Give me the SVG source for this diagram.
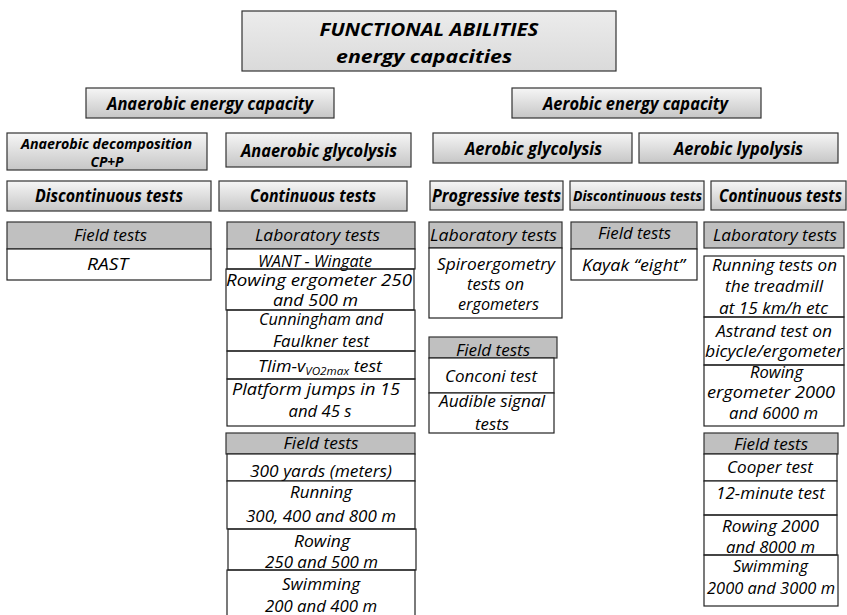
<svg xmlns="http://www.w3.org/2000/svg" width="847" height="615" viewBox="0 0 847 615">
<defs>
<linearGradient id="g" x1="0" y1="0" x2="0" y2="1">
<stop offset="0" stop-color="#f6f6f6"/>
<stop offset="1" stop-color="#c6c6c6"/>
</linearGradient>
<linearGradient id="gt" x1="0" y1="0" x2="0" y2="1">
<stop offset="0" stop-color="#ececec"/>
<stop offset="1" stop-color="#dadada"/>
</linearGradient>
<style>
.t{fill:url(#gt);stroke:#333;stroke-width:1.2}
.h{fill:url(#g);stroke:#333;stroke-width:1.2}
.gh{fill:#c0c0c0;stroke:#333;stroke-width:1.2}
.w{fill:#fff;stroke:#222;stroke-width:1.2}
.n{fill:none;stroke:#222;stroke-width:1.2}
text{font-family:"Open Sans","Noto Sans",sans-serif;font-style:italic;fill:#000;text-anchor:middle}
.b{font-weight:bold;font-size:17.5px}
.bs{font-weight:bold;font-size:15px}
.r{font-size:16px}
.sub{font-size:10.5px}
</style>
</defs>
<g id="connectors"/>

<g id="title">
<rect class="t" x="242" y="11" width="374" height="60"/>
<text class="b" x="429" y="36" textLength="219" lengthAdjust="spacingAndGlyphs" style="font-size:18px">FUNCTIONAL ABILITIES</text>
<text class="b" x="424" y="63" textLength="176" lengthAdjust="spacingAndGlyphs" style="font-size:18px">energy capacities</text>
</g>

<g id="anaerobic">
<rect class="h" x="86" y="88" width="248" height="30"/>
<text class="b" x="210" y="110" textLength="206" lengthAdjust="spacingAndGlyphs">Anaerobic energy capacity</text>
</g>
<g id="aerobic">
<rect class="h" x="512" y="88" width="249" height="30"/>
<text class="b" x="635.5" y="110" textLength="185" lengthAdjust="spacingAndGlyphs">Aerobic energy capacity</text>
</g>

<g id="an-decomp">
<rect class="h" x="7" y="133" width="200" height="37"/>
<text class="bs" x="106.5" y="149" textLength="171" lengthAdjust="spacingAndGlyphs">Anaerobic decomposition</text>
<text class="bs" x="107" y="167" textLength="33" lengthAdjust="spacingAndGlyphs">CP+P</text>
</g>
<g id="an-glyc">
<rect class="h" x="226" y="133" width="185" height="34"/>
<text class="b" x="319" y="157" textLength="156" lengthAdjust="spacingAndGlyphs">Anaerobic glycolysis</text>
</g>
<g id="ae-glyc">
<rect class="h" x="433" y="133" width="199" height="30"/>
<text class="b" x="533.5" y="155" textLength="137" lengthAdjust="spacingAndGlyphs">Aerobic glycolysis</text>
</g>
<g id="ae-lypo">
<rect class="h" x="639" y="133" width="199" height="30"/>
<text class="b" x="738.5" y="155" textLength="129" lengthAdjust="spacingAndGlyphs">Aerobic lypolysis</text>
</g>

<g id="disc1">
<rect class="h" x="7" y="181" width="204" height="30"/>
<text class="b" x="109" y="202" textLength="148" lengthAdjust="spacingAndGlyphs">Discontinuous tests</text>
</g>
<g id="cont1">
<rect class="h" x="219" y="181" width="188" height="30"/>
<text class="b" x="313" y="202" textLength="126" lengthAdjust="spacingAndGlyphs">Continuous tests</text>
</g>
<g id="prog">
<rect class="h" x="430" y="181" width="133" height="29"/>
<text class="b" x="496.5" y="202" textLength="129" lengthAdjust="spacingAndGlyphs">Progressive tests</text>
</g>
<g id="disc2">
<rect class="h" x="570" y="181" width="134" height="29"/>
<text class="bs" x="637.5" y="201" textLength="129" lengthAdjust="spacingAndGlyphs" style="font-size:14px">Discontinuous tests</text>
</g>
<g id="cont2">
<rect class="h" x="711" y="181" width="135" height="29"/>
<text class="b" x="780.5" y="202" textLength="123" lengthAdjust="spacingAndGlyphs">Continuous tests</text>
</g>

<!-- Column 1 -->
<g id="c1-field">
<rect class="gh" x="7" y="222" width="204" height="27"/>
<text class="r" x="110.5" y="241" textLength="73" lengthAdjust="spacingAndGlyphs">Field tests</text>
</g>
<g id="c1-rast">
<rect class="w" x="7" y="249" width="204" height="31"/>
<text class="r" x="107.5" y="270" textLength="41" lengthAdjust="spacingAndGlyphs">RAST</text>
</g>

<!-- Column 2 -->
<g id="c2-lab">
<rect class="gh" x="227" y="222" width="188" height="27"/>
<text class="r" x="317.5" y="241" textLength="125" lengthAdjust="spacingAndGlyphs">Laboratory tests</text>
</g>
<g id="c2-want">
<rect class="w" x="227" y="249" width="188" height="20"/>
<text class="r" x="315" y="267" textLength="114" lengthAdjust="spacingAndGlyphs">WANT - Wingate</text>
</g>
<g id="c2-rowerg">
<rect class="n" x="226" y="269" width="188" height="41"/>
<text class="r" x="319" y="286" textLength="186" lengthAdjust="spacingAndGlyphs">Rowing ergometer 250</text>
<text class="r" x="315.5" y="306" textLength="85" lengthAdjust="spacingAndGlyphs">and 500 m</text>
</g>
<g id="c2-cunn">
<rect class="n" x="227" y="310" width="188" height="41"/>
<text class="r" x="321" y="325" textLength="124" lengthAdjust="spacingAndGlyphs">Cunningham and</text>
<text class="r" x="321" y="347" textLength="96" lengthAdjust="spacingAndGlyphs">Faulkner test</text>
</g>
<g id="c2-tlim">
<rect class="n" x="227" y="351" width="188" height="28"/>
<text class="r" x="320" y="372" textLength="124" lengthAdjust="spacingAndGlyphs">Tlim-v<tspan class="sub" dy="3">VO2max</tspan><tspan dy="-3"> test</tspan></text>
</g>
<g id="c2-plat">
<rect class="n" x="227" y="379" width="188" height="47"/>
<text class="r" x="316" y="395" textLength="168" lengthAdjust="spacingAndGlyphs">Platform jumps in 15</text>
<text class="r" x="320" y="417" textLength="63" lengthAdjust="spacingAndGlyphs">and 45 s</text>
</g>
<g id="c2-field">
<rect class="gh" x="226" y="433" width="189" height="21"/>
<text class="r" x="321" y="449" textLength="75" lengthAdjust="spacingAndGlyphs">Field tests</text>
</g>
<g id="c2-300">
<rect class="w" x="227" y="454" width="188" height="27"/>
<text class="r" x="321" y="477" textLength="142" lengthAdjust="spacingAndGlyphs">300 yards (meters)</text>
</g>
<g id="c2-run">
<rect class="w" x="227" y="481" width="188" height="48"/>
<text class="r" x="321" y="498" textLength="62" lengthAdjust="spacingAndGlyphs">Running</text>
<text class="r" x="321" y="522" textLength="150" lengthAdjust="spacingAndGlyphs">300, 400 and 800 m</text>
</g>
<g id="c2-row">
<rect class="n" x="228" y="529" width="188" height="41"/>
<text class="r" x="322" y="547" textLength="56" lengthAdjust="spacingAndGlyphs">Rowing</text>
<text class="r" x="321.5" y="568" textLength="113" lengthAdjust="spacingAndGlyphs">250 and 500 m</text>
</g>
<g id="c2-swim">
<rect class="n" x="227" y="570" width="188" height="50"/>
<text class="r" x="321" y="590" textLength="78" lengthAdjust="spacingAndGlyphs">Swimming</text>
<text class="r" x="321" y="612" textLength="112" lengthAdjust="spacingAndGlyphs">200 and 400 m</text>
</g>

<!-- Column 3 -->
<g id="c3-lab">
<rect class="gh" x="429" y="222" width="133" height="26"/>
<text class="r" x="493.5" y="241" textLength="127" lengthAdjust="spacingAndGlyphs">Laboratory tests</text>
</g>
<g id="c3-spiro">
<rect class="w" x="429" y="248" width="133" height="70"/>
<text class="r" x="496" y="270" textLength="118" lengthAdjust="spacingAndGlyphs">Spiroergometry</text>
<text class="r" x="495.5" y="290" textLength="57" lengthAdjust="spacingAndGlyphs">tests on</text>
<text class="r" x="498.5" y="310" textLength="81" lengthAdjust="spacingAndGlyphs">ergometers</text>
</g>
<g id="c3-field">
<rect class="gh" x="429" y="337" width="128" height="21"/>
<text class="r" x="493" y="356" textLength="74" lengthAdjust="spacingAndGlyphs">Field tests</text>
</g>
<g id="c3-conconi">
<rect class="w" x="429" y="358" width="125" height="35"/>
<text class="r" x="491" y="382" textLength="92" lengthAdjust="spacingAndGlyphs">Conconi test</text>
</g>
<g id="c3-audible">
<rect class="w" x="429" y="393" width="125" height="40"/>
<text class="r" x="492" y="407" textLength="106" lengthAdjust="spacingAndGlyphs">Audible signal</text>
<text class="r" x="492" y="430" textLength="34" lengthAdjust="spacingAndGlyphs">tests</text>
</g>

<!-- Column 4 -->
<g id="c4-field">
<rect class="gh" x="571" y="222" width="126" height="27"/>
<text class="r" x="634.5" y="239" textLength="73" lengthAdjust="spacingAndGlyphs">Field tests</text>
</g>
<g id="c4-kayak">
<rect class="w" x="571" y="249" width="126" height="31"/>
<text class="r" x="633.5" y="271" textLength="103" lengthAdjust="spacingAndGlyphs">Kayak “eight”</text>
</g>

<!-- Column 5 -->
<g id="c5-lab">
<rect class="gh" x="704" y="222" width="140" height="26"/>
<text class="r" x="775" y="241" textLength="124" lengthAdjust="spacingAndGlyphs">Laboratory tests</text>
</g>
<g id="c5-run">
<rect class="w" x="704" y="256" width="140" height="61"/>
<text class="r" x="774.5" y="271" textLength="125" lengthAdjust="spacingAndGlyphs">Running tests on</text>
<text class="r" x="774" y="292" textLength="98" lengthAdjust="spacingAndGlyphs">the treadmill</text>
<text class="r" x="773.5" y="314" textLength="109" lengthAdjust="spacingAndGlyphs">at 15 km/h etc</text>
</g>
<g id="c5-astrand">
<rect class="n" x="704" y="317" width="140" height="48"/>
<text class="r" x="774" y="337" textLength="116" lengthAdjust="spacingAndGlyphs">Astrand test on</text>
<text class="r" x="774" y="357" textLength="138" lengthAdjust="spacingAndGlyphs">bicycle/ergometer</text>
</g>
<g id="c5-rowerg">
<rect class="n" x="704" y="365" width="140" height="61"/>
<text class="r" x="776.5" y="378" textLength="53" lengthAdjust="spacingAndGlyphs">Rowing</text>
<text class="r" x="771" y="398" textLength="128" lengthAdjust="spacingAndGlyphs">ergometer 2000</text>
<text class="r" x="773.5" y="419" textLength="89" lengthAdjust="spacingAndGlyphs">and 6000 m</text>
</g>
<g id="c5-field">
<rect class="gh" x="704" y="433" width="134" height="21"/>
<text class="r" x="771" y="450" textLength="74" lengthAdjust="spacingAndGlyphs">Field tests</text>
</g>
<g id="c5-cooper">
<rect class="w" x="704" y="454" width="133" height="27"/>
<text class="r" x="770" y="473" textLength="86" lengthAdjust="spacingAndGlyphs">Cooper test</text>
</g>
<g id="c5-12min">
<rect class="w" x="704" y="481" width="133" height="34"/>
<text class="r" x="770.5" y="499" textLength="109" lengthAdjust="spacingAndGlyphs">12-minute test</text>
</g>
<g id="c5-row">
<rect class="n" x="704" y="515" width="133" height="40"/>
<text class="r" x="770.5" y="532" textLength="97" lengthAdjust="spacingAndGlyphs">Rowing 2000</text>
<text class="r" x="770.5" y="553" textLength="89" lengthAdjust="spacingAndGlyphs">and 8000 m</text>
</g>
<g id="c5-swim">
<rect class="n" x="704" y="555" width="134" height="51"/>
<text class="r" x="770.5" y="572" textLength="75" lengthAdjust="spacingAndGlyphs">Swimming</text>
<text class="r" x="771" y="594" textLength="128" lengthAdjust="spacingAndGlyphs">2000 and 3000  m</text>
</g>
</svg>
